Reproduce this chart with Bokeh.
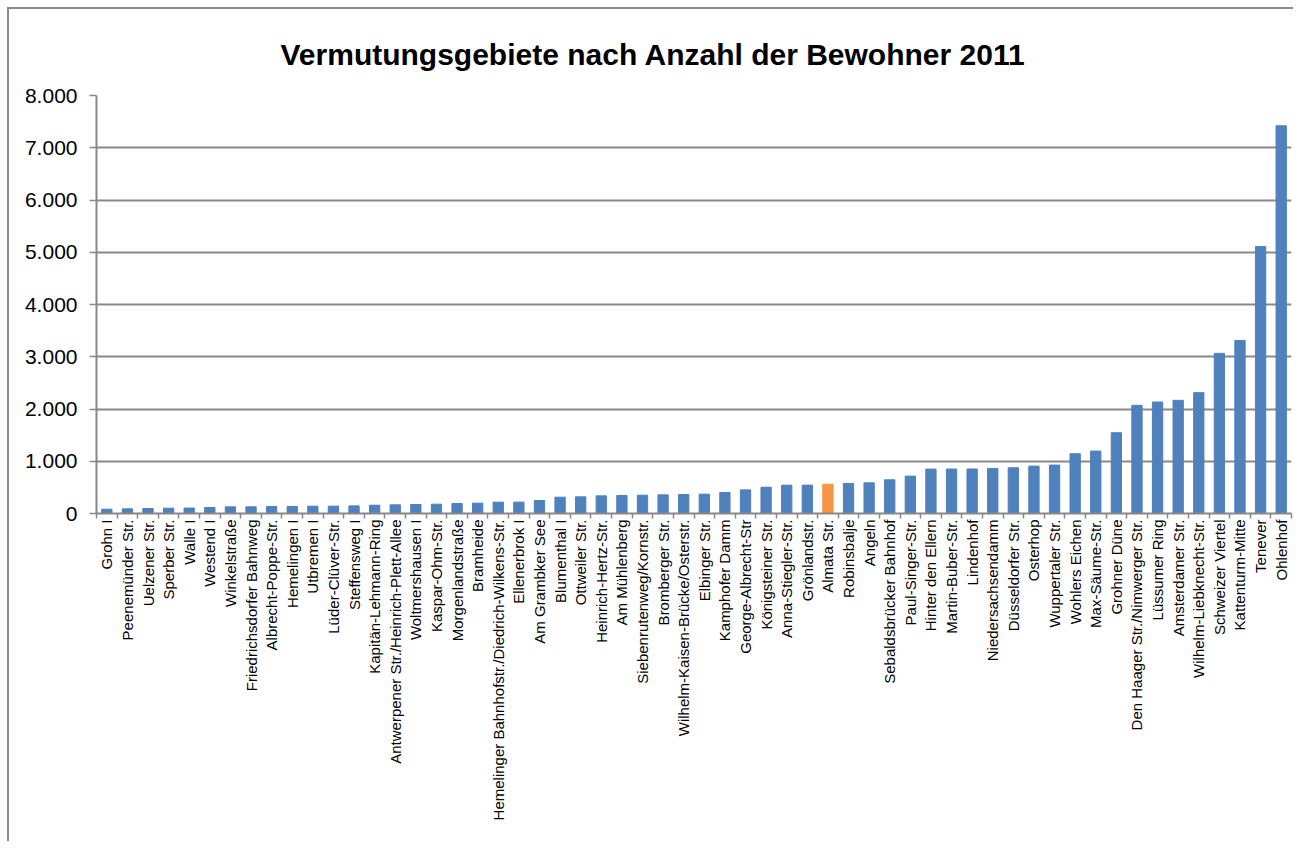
from bokeh.plotting import figure
from bokeh.layouts import column
from bokeh.models import Range1d, FixedTicker, ColumnDataSource
from bokeh.embed import file_html
from bokeh.resources import INLINE

title_text = "Vermutungsgebiete nach Anzahl der Bewohner 2011"

areas = [
    "Grohn I", "Peenemünder Str.", "Uelzener Str.", "Sperber Str.", "Walle I",
    "Westend I", "Winkelstraße", "Friedrichsdorfer Bahnweg", "Albrecht-Poppe-Str.",
    "Hemelingen I", "Utbremen I", "Lüder-Clüver-Str.", "Steffensweg I",
    "Kapitän-Lehmann-Ring", "Antwerpener Str./Heinrich-Plett-Allee", "Woltmershausen I",
    "Kaspar-Ohm-Str.", "Morgenlandstraße", "Bramheide",
    "Hemelinger Bahnhofstr./Diedrich-Wilkens-Str.", "Ellenerbrok I", "Am Grambker See",
    "Blumenthal I", "Ottweiler Str.", "Heinrich-Hertz-Str.", "Am Mühlenberg",
    "Siebenrutenweg/Kornstr.", "Bromberger Str.", "Wilhelm-Kaisen-Brücke/Osterstr.",
    "Elbinger Str.", "Kamphofer Damm", "George-Albrecht-Str", "Königsteiner Str.",
    "Anna-Stiegler-Str.", "Grönlandstr.", "Almata Str.", "Robinsbalje", "Angeln",
    "Sebaldsbrücker Bahnhof", "Paul-Singer-Str.", "Hinter den Ellern",
    "Martin-Buber-Str.", "Lindenhof", "Niedersachsendamm", "Düsseldorfer Str.",
    "Osterhop", "Wuppertaler Str.", "Wohlers Eichen", "Max-Säume-Str.", "Grohner Düne",
    "Den Haager Str./Nimwerger Str.", "Lüssumer Ring", "Amsterdamer Str.",
    "Wilhelm-Liebknecht-Str.", "Schweizer Viertel", "Kattenturm-Mitte", "Tenever",
    "Ohlenhof",
]

residents = [
    83, 89, 96, 102, 104, 115, 127, 128, 134, 135, 140, 141, 146, 159, 166, 172,
    178, 191, 198, 217, 218, 249, 312, 319, 338, 344, 350, 357, 363, 370, 402, 452,
    503, 542, 543, 561, 575, 588, 645, 716, 850, 851, 852, 863, 875, 907, 927, 1144,
    1195, 1546, 2070, 2134, 2166, 2313, 3064, 3312, 5108, 7421,
]

highlighted = ["Almata Str."]

y_ticks = [0, 1000, 2000, 3000, 4000, 5000, 6000, 7000, 8000]
y_tick_labels = ["0", "1.000", "2.000", "3.000", "4.000", "5.000", "6.000", "7.000", "8.000"]

BLUE = "#4F81BD"
ORANGE = "#F79646"
GRID = "#888888"
FONT = "Liberation Sans"

n = len(areas)
xs = list(range(n))
colors = [ORANGE if a in highlighted else BLUE for a in areas]
src = ColumnDataSource(dict(x=xs, top=residents, color=colors, name=areas))

p = figure(
    width=1286, height=834,
    x_range=Range1d(-0.5, n - 0.5), y_range=Range1d(0, 8000),
    output_backend="svg", toolbar_location=None, tools="",
    min_border_left=87, min_border_right=4, min_border_top=86, min_border_bottom=330,
    styles={"border-top": "2px solid #8a8a8a", "border-left": "2px solid #8a8a8a"},
)
p.outline_line_color = None
p.background_fill_color = "white"
p.border_fill_color = "white"

p.vbar(x="x", top="top", width=0.5, bottom=0, color="color", source=src)

p.title.text = title_text
p.title.text_font = FONT
p.title.text_font_size = "30px"
p.title.text_font_style = "bold"
p.title.align = "left"
p.title.offset = 184
p.title.standoff = 50
p.title.text_color = "black"

# x axis
xa = p.xaxis[0]
xa.ticker = FixedTicker(ticks=xs, minor_ticks=[i + 0.5 for i in range(-1, n)])
xa.major_label_overrides = {i: a for i, a in enumerate(areas)}
xa.major_label_orientation = 3.14159265 / 2
xa.major_tick_line_color = None
xa.minor_tick_line_color = GRID
xa.minor_tick_line_width = 1.5
xa.minor_tick_in = 0
xa.minor_tick_out = 5
xa.axis_line_color = GRID
xa.axis_line_width = 2
xa.major_label_text_font = FONT
xa.major_label_text_font_size = "15px"
xa.major_label_text_color = "black"
xa.major_label_standoff = 0

# y axis
ya = p.yaxis[0]
ya.ticker = FixedTicker(ticks=y_ticks)
ya.major_label_overrides = {t: l for t, l in zip(y_ticks, y_tick_labels)}
ya.minor_tick_line_color = None
ya.major_tick_line_color = GRID
ya.major_tick_line_width = 1.5
ya.major_tick_in = 0
ya.major_tick_out = 7
ya.axis_line_color = GRID
ya.axis_line_width = 2
ya.major_label_text_font = FONT
ya.major_label_text_font_size = "21px"
ya.major_label_text_color = "black"
ya.major_label_standoff = 12

p.xgrid.grid_line_color = None
p.ygrid.grid_line_color = GRID
p.ygrid.grid_line_width = 2
p.ygrid.ticker = FixedTicker(ticks=y_ticks)

layout = column(p, styles={"padding-left": "7px", "padding-top": "7px"})

open("out.html", "w").write(file_html(layout, INLINE))
